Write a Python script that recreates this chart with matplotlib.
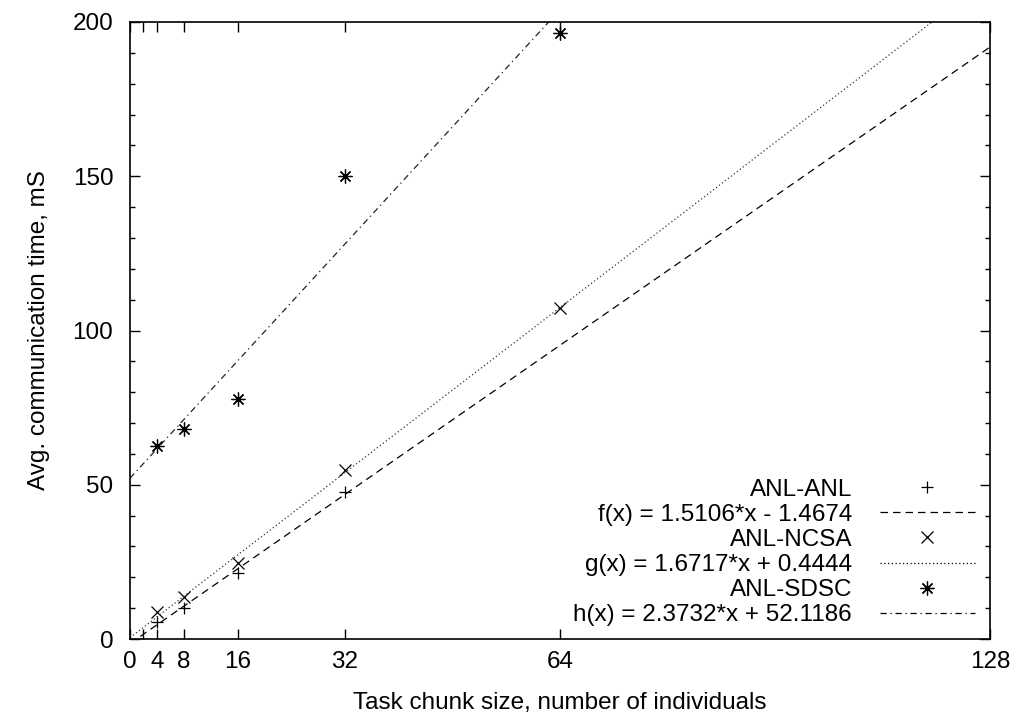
import matplotlib
matplotlib.use("Agg")
import matplotlib.pyplot as plt
import numpy as np

plt.rcParams["font.family"] = ["Liberation Sans", "DejaVu Sans"]

# measured points
x_anl = [4, 8, 16, 32]
y_anl = [5.5, 10.0, 21.4, 47.6]

x_ncsa = [4, 8, 16, 32, 64]
y_ncsa = [8.8, 13.6, 24.6, 54.8, 107.3]

x_sdsc = [4, 8, 16, 32, 64]
y_sdsc = [62.4, 68.0, 77.9, 150.1, 196.4]

# linear fits (slope, intercept)
fit_anl = (1.5106, -1.4674)
fit_ncsa = (1.6717, 0.4444)
fit_sdsc = (2.3732, 52.1186)

xticks = [0, 2, 4, 8, 16, 32, 64, 128]
xticklabels = ["0", "", "4", "8", "16", "32", "64", "128"]

labels = ["ANL-ANL", "f(x) = 1.5106*x - 1.4674",
          "ANL-NCSA", "g(x) = 1.6717*x + 0.4444",
          "ANL-SDSC", "h(x) = 2.3732*x + 52.1186"]

FS = 17.5

fig = plt.figure(figsize=(10.19, 7.22), dpi=100)
ax = fig.add_axes([130 / 1019, 83 / 722, 860 / 1019, 617 / 722])

star = (8, 2, 0)
lw = 0.9
mk = dict(color="black", linestyle="none", markersize=8, markeredgewidth=0.9)
mk_star = dict(mk, markersize=10)

xl = np.array([0, 128])
ax.plot(x_anl, y_anl, marker="+", **mk)
ax.plot(xl, fit_anl[0] * xl + fit_anl[1], color="black", lw=lw, ls=(0, (6, 4)))
ax.plot(x_ncsa, y_ncsa, marker="x", **mk)
ax.plot(xl, fit_ncsa[0] * xl + fit_ncsa[1], color="#333333", lw=lw, ls=(0, (1, 2)))
ax.plot(x_sdsc, y_sdsc, marker=star, **mk_star)
ax.plot(xl, fit_sdsc[0] * xl + fit_sdsc[1], color="#222222", lw=lw, ls=(0, (5, 3, 1, 3)))

ax.set_xlim(0, 128)
ax.set_ylim(0, 200)
ax.set_xticks(xticks)
ax.set_xticklabels(xticklabels)
ax.set_yticks(range(0, 201, 50))
ax.set_yticks(range(0, 201, 10), minor=True)

ax.tick_params(which="both", direction="in", top=True, right=True, labelsize=FS)
ax.tick_params(which="major", length=7, width=1)
ax.tick_params(which="minor", length=3.3, width=1)
ax.tick_params(axis="x", pad=9)
ax.tick_params(axis="y", pad=12)
for s in ax.spines.values():
    s.set_linewidth(1.2)

ax.set_xlabel("Task chunk size, number of individuals", fontsize=FS, labelpad=13)
ax.set_ylabel("Avg. communication time, mS", fontsize=FS, labelpad=16)

# gnuplot style key, lower right
styles = [("+", None), (None, (0, (6, 4))), ("x", None), (None, (0, (1, 2))),
          (star, None), (None, (0, (5, 3, 1, 3)))]
for k, (lab, (m, ls)) in enumerate(zip(labels, styles)):
    yk = (26 + 25.2 * (5 - k)) / 617
    ax.text(0.8395, yk, lab, transform=ax.transAxes, ha="right",
            va="center_baseline", fontsize=FS)
    if m is not None:
        style = mk_star if m == star else mk
        ax.plot([0.9267], [yk], marker=m, transform=ax.transAxes, **style)
    else:
        ax.plot([0.872, 0.9826], [yk, yk], transform=ax.transAxes,
                color="black", lw=lw, ls=ls)

fig.savefig("out.png", dpi=100)
